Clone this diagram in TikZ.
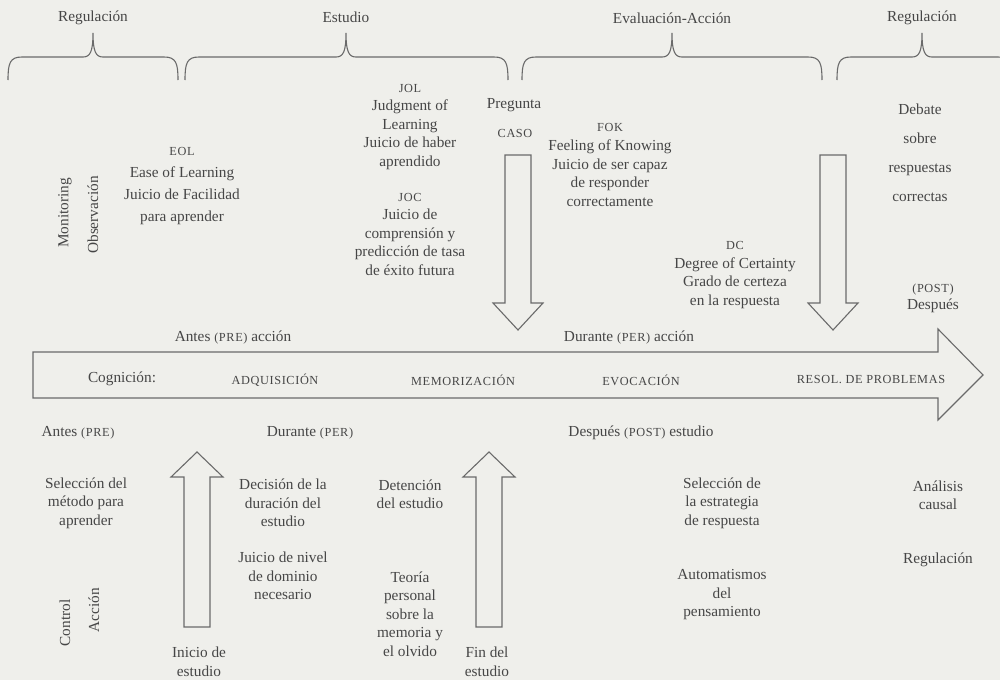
\documentclass[tikz,border=0pt]{standalone}
\usepackage{fontspec}
\setmainfont{Liberation Serif}
\newfontfamily\scfont[LetterSpace=5]{Liberation Serif}
\definecolor{bgc}{HTML}{EFEFEB}
\definecolor{txc}{HTML}{464646}
\definecolor{lnc}{HTML}{6A6A6A}
\newcommand\smc[1]{{\scfont\fontsize{12.3}{13}\selectfont #1}}
\newcommand\brc[3]{\draw[ln] (#1,80) .. controls (#1,63) and (#1+2,57) .. (#1+14,57) -- (#2-10,57) .. controls (#2-3,57) and (#2,52) .. (#2,33) .. controls (#2,52) and (#2+3,57) .. (#2+10,57) -- (#3-14,57) .. controls (#3-2,57) and (#3,63) .. (#3,80);}
\newcommand\darr[1]{\draw[ln] (#1-13,155) -- (#1+13,155) -- (#1+13,303) -- (#1+25,303) -- (#1,330) -- (#1-25,303) -- (#1-13,303) -- cycle;}
\newcommand\uarr[1]{\draw[ln] (#1-13,627) -- (#1+13,627) -- (#1+13,477) -- (#1+26,477) -- (#1,452) -- (#1-26,477) -- (#1-13,477) -- cycle;}
\begin{document}
\begin{tikzpicture}[x=1pt,y=-1pt,
  txt/.style={text=txc,font=\fontsize{15.3}{18.5}\selectfont,align=center,inner sep=0pt},
  ln/.style={draw=lnc,line width=1.1pt,line join=miter}]
\fill[bgc] (0,0) rectangle (1000,680);
\useasboundingbox (0,0) rectangle (1000,680);
\clip (0,0) rectangle (1000,680);

% braces
\brc{8}{93}{178}
\brc{185}{346}{508}
\brc{522}{672}{822}
\brc{837}{922}{1012}
\node[txt] (reg1) at (93,18) {Regulación};
\node[txt] (est) at (346,17) {Estudio};
\node[txt] (eva) at (672,18) {Evaluación-Acción};
\node[txt] (reg2) at (922,18) {Regulación};

% arrows
\draw[ln] (33,352) -- (938,352) -- (938,329) -- (983,375) -- (938,420) -- (938,398) -- (33,398) -- cycle;
\darr{518}
\darr{833}
\uarr{197}
\uarr{489}

% rotated labels
\node[txt,rotate=90] (mon) at (65,213) {Monitoring};
\node[txt,rotate=90] (obs) at (93,215) {Observación};
\node[txt,rotate=90] (con) at (65,623) {Control};
\node[txt,rotate=90] (acc) at (94,610) {Acción};

% upper texts
\node[txt,font=\fontsize{15.3}{22}\selectfont] (eol) at (182,186) {\smc{EOL}\\Ease of Learning\\Juicio de Facilidad\\para aprender};
\node[txt] (jol) at (410,127) {\smc{JOL}\\Judgment of\\Learning\\Juicio de haber\\aprendido};
\node[txt] (joc) at (410,234) {\smc{JOC}\\Juicio de\\comprensión y\\predicción de tasa\\de éxito futura};
\node[txt] (preg) at (514,105) {Pregunta};
\node[txt] (caso) at (515,133) {\smc{CASO}};
\node[txt] (fok) at (610,165) {\smc{FOK}\\Feeling of Knowing\\Juicio de ser capaz\\de responder\\correctamente};
\node[txt] (dc) at (735,275) {\smc{DC}\\Degree of Certainty\\Grado de certeza\\en la respuesta};
\node[txt,font=\fontsize{15.3}{29}\selectfont] (deb) at (920,153) {Debate\\sobre\\respuestas\\correctas};
\node[txt,font=\fontsize{15.3}{17}\selectfont] (post) at (933,298) {\smc{(POST)}\\Después};

\node[txt] (antesacc) at (233,337) {Antes \smc{(PRE)} acción};
\node[txt] (duracc) at (629,337) {Durante \smc{(PER)} acción};

% inside main arrow
\node[txt] (cog) at (122,379) {Cognición:};
\node[txt] (adq) at (275,380) {\smc{ADQUISICIÓN}};
\node[txt] (mem) at (463,380) {\smc{MEMORIZACIÓN}};
\node[txt] (evo) at (641,380) {\smc{EVOCACIÓN}};
\node[txt] (res) at (871,380) {\smc{RESOL. DE PROBLEMAS}};

% lower texts
\node[txt] (antes) at (78,433) {Antes \smc{(PRE)}};
\node[txt] (durante) at (310,433) {Durante \smc{(PER)}};
\node[txt] (despues) at (641,433) {Después \smc{(POST)} estudio};
\node[txt] (selm) at (86,503) {Selección del\\método para\\aprender};
\node[txt] (dec) at (283,503) {Decisión de la\\duración del\\estudio};
\node[txt] (jn) at (283,576) {Juicio de nivel\\de dominio\\necesario};
\node[txt] (det) at (410,494) {Detención\\del estudio};
\node[txt] (teo) at (410,614) {Teoría\\personal\\sobre la\\memoria y\\el olvido};
\node[txt] (ini) at (199,662) {Inicio de\\estudio};
\node[txt] (fin) at (487,662) {Fin del\\estudio};
\node[txt] (sele) at (722,503) {Selección de\\la estrategia\\de respuesta};
\node[txt] (aut) at (722,595) {Automatismos\\del\\pensamiento};
\node[txt] (ana) at (938,495) {Análisis\\causal};
\node[txt] (reg3) at (938,560) {Regulación};
\end{tikzpicture}
\end{document}
